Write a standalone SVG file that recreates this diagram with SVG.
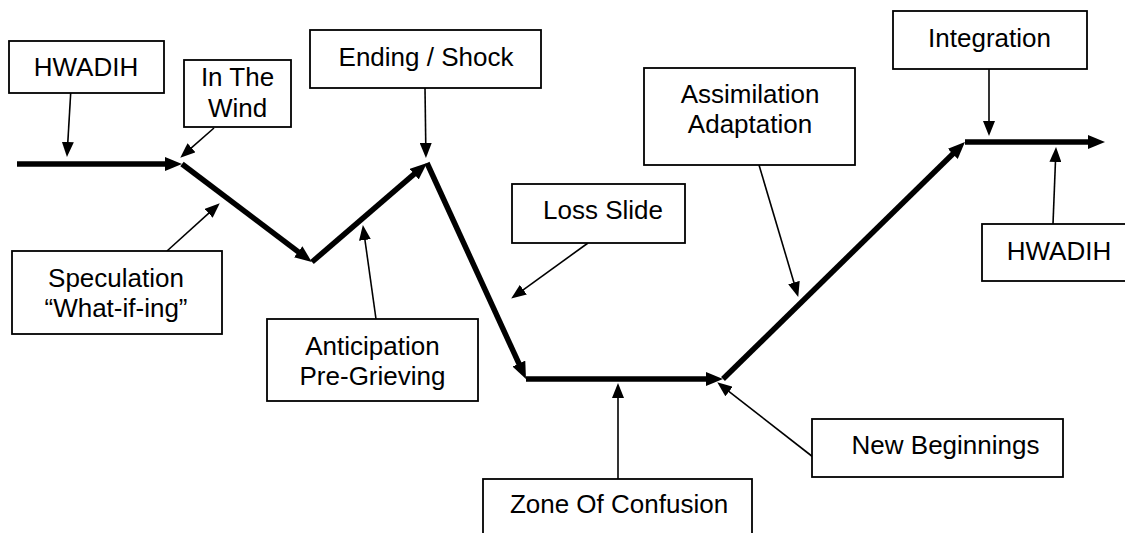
<svg xmlns="http://www.w3.org/2000/svg" width="1125" height="533" viewBox="0 0 1125 533">
<style>
.box{fill:#fff;stroke:#000;stroke-width:1.8}
.t{font-family:"Liberation Sans",Arial,sans-serif;font-size:26px;fill:#000;text-anchor:middle}
.thick{stroke:#000;stroke-width:5.5;fill:none;marker-end:url(#big)}
.thin{stroke:#000;stroke-width:1.6;fill:none;marker-end:url(#small)}
</style>
<defs>
<marker id="big" markerUnits="userSpaceOnUse" markerWidth="18" markerHeight="14" refX="6" refY="7" orient="auto">
<path d="M0,0 L17,7 L0,14 z" fill="#000"/>
</marker>
<marker id="small" markerUnits="userSpaceOnUse" markerWidth="15" markerHeight="12" refX="4" refY="6" orient="auto">
<path d="M0,0 L15,6 L0,12 z" fill="#000"/>
</marker>
</defs>
<rect width="1125" height="533" fill="#fff"/>
<g id="connectors">
<line class="thick" x1="17" y1="164" x2="171" y2="164"/>
<line class="thick" x1="182" y1="164" x2="303" y2="255.4"/>
<line class="thick" x1="312" y1="262" x2="418.7" y2="170.2"/>
<line class="thick" x1="427" y1="163" x2="521.4" y2="369"/>
<line class="thick" x1="526" y1="379" x2="712" y2="379"/>
<line class="thick" x1="723" y1="379" x2="957.1" y2="149.7"/>
<line class="thick" x1="965" y1="142" x2="1094" y2="142"/>
<line class="thin" x1="70.7" y1="93" x2="67.6" y2="146"/>
<line class="thin" x1="214" y1="128" x2="188.5" y2="150.4"/>
<line class="thin" x1="425" y1="88" x2="425.8" y2="147"/>
<line class="thin" x1="167" y1="251" x2="211.6" y2="210.7"/>
<line class="thin" x1="376" y1="319" x2="364.4" y2="236"/>
<line class="thin" x1="588" y1="243" x2="520.1" y2="292.1"/>
<line class="thin" x1="759" y1="165" x2="795.1" y2="286.4"/>
<line class="thin" x1="989" y1="69" x2="989" y2="125"/>
<line class="thin" x1="1053" y1="224" x2="1055.6" y2="158"/>
<line class="thin" x1="618" y1="479" x2="618" y2="394"/>
<line class="thin" x1="813" y1="457" x2="725.9" y2="389.1"/>
</g>
<g id="hwadih-left"><rect class="box" x="9" y="41" width="155" height="52"/><text class="t" x="86" y="76">HWADIH</text></g>
<g id="in-the-wind"><rect class="box" x="184" y="60" width="107" height="67"/><text class="t" x="237.5" y="86">In The</text><text class="t" x="237.5" y="117">Wind</text></g>
<g id="ending-shock"><rect class="box" x="310" y="30" width="231" height="58"/><text class="t" x="426" y="66">Ending / Shock</text></g>
<g id="speculation"><rect class="box" x="12" y="251" width="210" height="83"/><text class="t" x="116" y="287">Speculation</text><text class="t" x="116" y="317">“What-if-ing”</text></g>
<g id="anticipation"><rect class="box" x="267" y="319" width="211" height="82"/><text class="t" x="372.5" y="355">Anticipation</text><text class="t" x="372.5" y="385">Pre-Grieving</text></g>
<g id="loss-slide"><rect class="box" x="512" y="184" width="173" height="59"/><text class="t" x="603" y="219">Loss Slide</text></g>
<g id="assimilation"><rect class="box" x="644" y="68" width="211" height="97"/><text class="t" x="750" y="103">Assimilation</text><text class="t" x="750" y="133">Adaptation</text></g>
<g id="integration"><rect class="box" x="893" y="11" width="194" height="58"/><text class="t" x="989.5" y="47">Integration</text></g>
<g id="hwadih-right"><rect class="box" x="982" y="224" width="150" height="57"/><text class="t" x="1059" y="260">HWADIH</text></g>
<g id="new-beginnings"><rect class="box" x="812" y="419" width="251" height="58"/><text class="t" x="945.5" y="454">New Beginnings</text></g>
<g id="zone-of-confusion"><rect class="box" x="483" y="479" width="269" height="70"/><text class="t" x="619" y="513">Zone Of Confusion</text></g>
</svg>
